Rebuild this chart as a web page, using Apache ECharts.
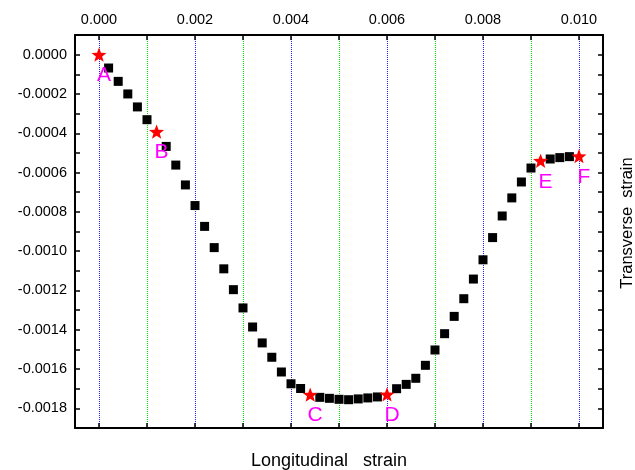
<!DOCTYPE html>
<html>
<head>
<meta charset="utf-8">
<script src="https://cdn.jsdelivr.net/npm/echarts@6/dist/echarts.min.js"></script>
<style>
  html, body { margin: 0; padding: 0; background: #fff; }
  #chart { width: 635px; height: 470px; }
</style>
</head>
<body>
<div id="chart"></div>
<script>
// 方块数据点（纵向应变 / 横向应变）
const squareX = [0.0002, 0.0004, 0.0006, 0.0008, 0.0010, 0.0014, 0.0016, 0.0018, 0.0020, 0.0022,
  0.0024, 0.0026, 0.0028, 0.0030, 0.0032, 0.0034, 0.0036, 0.0038, 0.0040, 0.0042,
  0.0046, 0.0048, 0.0050, 0.0052, 0.0054, 0.0056, 0.0058, 0.0062, 0.0064, 0.0066,
  0.0068, 0.0070, 0.0072, 0.0074, 0.0076, 0.0078, 0.0080, 0.0082, 0.0084, 0.0086,
  0.0088, 0.0090, 0.0094, 0.0096, 0.0098]
const squareY = [-0.000068, -0.000136, -0.000200, -0.000266, -0.000331, -0.000467, -0.000562, -0.000663, -0.000768, -0.000874,
  -0.000982, -0.001090, -0.001196, -0.001289, -0.001386, -0.001467, -0.001540, -0.001615, -0.001675, -0.001699,
  -0.001744, -0.001749, -0.001754, -0.001756, -0.001752, -0.001747, -0.001742, -0.001700, -0.001678, -0.001647,
  -0.001581, -0.001503, -0.001420, -0.001332, -0.001242, -0.001142, -0.001044, -0.000931, -0.000821, -0.000729,
  -0.000648, -0.000577, -0.000531, -0.000524, -0.000519]

// 特征点 A-F
const starNames = ['A', 'B', 'C', 'D', 'E', 'F']
const starX = [0.0000, 0.0012, 0.0044, 0.0060, 0.0092, 0.0100]
const starY = [0.0000, -0.000392, -0.001730, -0.001729, -0.000540, -0.000517]

// 坐标轴刻度
const xTicks = [0.000, 0.001, 0.002, 0.003, 0.004, 0.005, 0.006, 0.007, 0.008, 0.009, 0.010]
const xLabels = [0.000, 0.002, 0.004, 0.006, 0.008, 0.010]
const xMajorGrid = [0.000, 0.002, 0.004, 0.006, 0.008, 0.010]
const xMinorGrid = [0.001, 0.003, 0.005, 0.007, 0.009]

// 五角星路径
function starPath() {
  let d = ''
  for (let i = 0; i < 10; i++) {
    const a = (-90 + i * 36) * Math.PI / 180
    const r = i % 2 === 0 ? 50 : 21
    d += (i === 0 ? 'M' : 'L') + (50 + r * Math.cos(a)).toFixed(2) + ' ' + (50 + r * Math.sin(a)).toFixed(2) + ' '
  }
  return 'path://' + d + 'Z'
}

const font = 'Liberation Sans, Arial, sans-serif'
const chart = echarts.init(document.getElementById('chart'))

const tickStyle = { show: true, inside: true, length: 5, lineStyle: { color: '#000', width: 1.5 } }
const lineStyle = { show: true, onZero: false, lineStyle: { color: '#000', width: 2 } }

// 只画竖直网格线的辅助 x 轴
function gridAxis(values, color) {
  return {
    type: 'value',
    position: 'top',
    min: -0.0005,
    max: 0.0105,
    axisLine: { show: false },
    axisTick: { show: false, customValues: values },
    axisLabel: { show: false, customValues: values },
    splitLine: { show: true, lineStyle: { color: color, type: 'dotted', width: 1 } }
  }
}

chart.setOption({
  animation: false,
  grid: { left: 75, top: 35, right: 32, bottom: 42, outerBoundsMode: 'none', containLabel: false },
  xAxis: [
    {
      type: 'value',
      position: 'top',
      min: -0.0005,
      max: 0.0105,
      axisLine: lineStyle,
      axisTick: Object.assign({ customValues: xTicks }, tickStyle),
      axisLabel: {
        customValues: xLabels,
        margin: 8,
        fontFamily: font,
        fontSize: 14.5,
        color: '#000',
        formatter: v => v.toFixed(3)
      },
      splitLine: { show: false }
    },
    {
      type: 'value',
      position: 'bottom',
      min: -0.0005,
      max: 0.0105,
      axisLine: lineStyle,
      axisTick: Object.assign({ customValues: xTicks }, tickStyle),
      axisLabel: { show: false },
      splitLine: { show: false },
      name: 'Longitudinal   strain',
      nameLocation: 'middle',
      nameGap: 24,
      nameTextStyle: { fontFamily: font, fontSize: 18, color: '#000', padding: [0, 20, 0, 0] }
    },
    gridAxis(xMajorGrid, '#1e1eff'),
    gridAxis(xMinorGrid, '#00dd00')
  ],
  yAxis: [
    {
      type: 'value',
      position: 'left',
      min: -0.0019,
      max: 0.0001,
      interval: 0.0001,
      axisLine: lineStyle,
      axisTick: tickStyle,
      axisLabel: {
        margin: 8,
        fontFamily: font,
        fontSize: 14.5,
        color: '#000',
        formatter: v => (Math.round(v * 10000) % 2 === 0 ? (Math.abs(v) < 1e-9 ? '0.0000' : v.toFixed(4)) : '')
      },
      splitLine: { show: false }
    },
    {
      type: 'value',
      position: 'right',
      min: -0.0019,
      max: 0.0001,
      interval: 0.0001,
      axisLine: lineStyle,
      axisTick: tickStyle,
      axisLabel: { show: false },
      splitLine: { show: false },
      name: 'Transverse  strain',
      nameLocation: 'middle',
      nameRotate: 90,
      nameGap: 16,
      nameTextStyle: { fontFamily: font, fontSize: 16.5, color: '#000', padding: [0, 0, 0, 17] }
    }
  ],
  series: [
    {
      type: 'scatter',
      z: 3,
      symbol: 'rect',
      symbolSize: 9,
      itemStyle: { color: '#000', opacity: 1 },
      data: squareX.map((x, i) => [x, squareY[i]])
    },
    {
      type: 'scatter',
      z: 4,
      symbol: starPath(),
      symbolSize: 15,
      symbolKeepAspect: true,
      itemStyle: { color: '#ff0000', opacity: 1 },
      label: {
        show: true,
        position: 'inside',
        offset: [5, 21],
        fontFamily: font,
        fontSize: 21,
        color: '#ff00ff',
        formatter: p => starNames[p.dataIndex]
      },
      data: starX.map((x, i) => [x, starY[i]])
    }
  ]
})
</script>
</body>
</html>
